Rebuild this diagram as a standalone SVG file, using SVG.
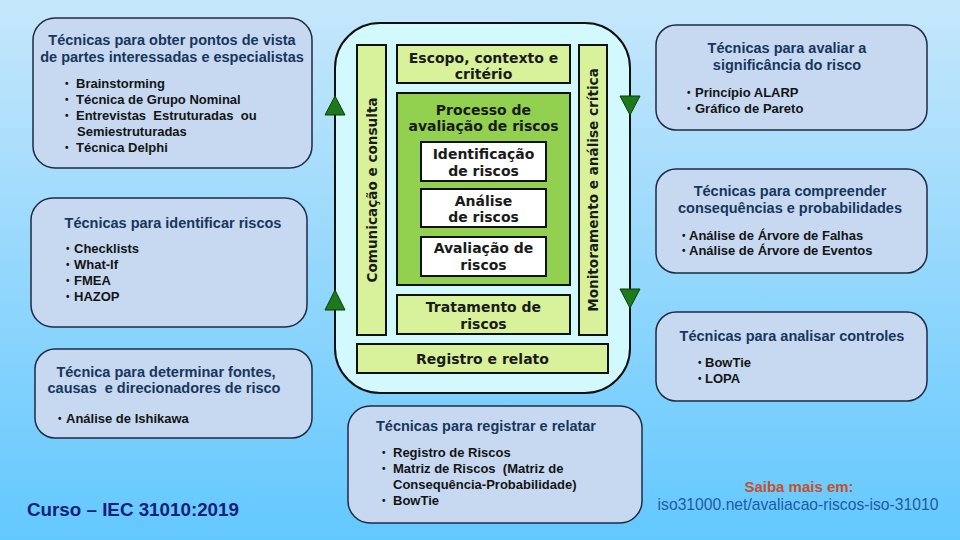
<svg xmlns="http://www.w3.org/2000/svg" width="960" height="540" viewBox="0 0 960 540">
<defs>
<linearGradient id="bg" x1="0" y1="0" x2="0" y2="1">
<stop offset="0" stop-color="#c6e7fb"/>
<stop offset="1" stop-color="#63c8fe"/>
</linearGradient>
<style>
.tbox{fill:#c6d9f1;stroke:#1f2a44;stroke-width:1.5}
.ttl{font-family:"Liberation Sans",Arial,sans-serif;font-weight:bold;font-size:14.5px;fill:#17365d;text-anchor:middle}
.itm{font-family:"Liberation Sans",Arial,sans-serif;font-weight:bold;font-size:13px;fill:#141414}
.bul{font-family:"Liberation Sans",Arial,sans-serif;font-weight:bold;font-size:10px;fill:#141414}
.lg{fill:#d8f29c;stroke:#111;stroke-width:2}
.dg{fill:#92d050;stroke:#111;stroke-width:2}
.wb{fill:#ffffff;stroke:#111;stroke-width:2}
.ct{font-family:"DejaVu Sans",Verdana,sans-serif;font-weight:bold;font-size:14px;fill:#1a1a1a;text-anchor:middle}
.vt{font-family:"DejaVu Sans",Verdana,sans-serif;font-weight:bold;font-size:13.6px;fill:#1a1a1a;text-anchor:middle}
.tri{fill:#1c7a1c;stroke:#0b3d0b;stroke-width:1}
</style>
</defs>
<rect x="0" y="0" width="960" height="540" fill="url(#bg)"/>

<g id="cycle">
<rect x="335" y="23" width="295" height="370" rx="45" ry="45" fill="#d2f9fd" stroke="#111" stroke-width="2"/>
</g>

<g id="comunicacao">
<rect class="lg" x="357" y="45" width="29" height="290"/>
<text class="vt" transform="translate(376.5,190) rotate(-90)">Comunicação e consulta</text>
</g>

<g id="monitoramento">
<rect class="lg" x="579" y="45" width="28" height="290"/>
<text class="vt" transform="translate(598,190) rotate(-90)">Monitoramento e análise crítica</text>
</g>

<g id="escopo">
<rect class="lg" x="397" y="45" width="173" height="38"/>
<text class="ct" x="483.5" y="63">Escopo, contexto e</text>
<text class="ct" x="483.5" y="79">critério</text>
</g>

<g id="processo">
<rect class="dg" x="397" y="93" width="173" height="192"/>
<text class="ct" x="483.5" y="115">Processo de</text>
<text class="ct" x="483.5" y="131">avaliação de riscos</text>
</g>

<g id="identificacao">
<rect class="wb" x="421" y="142" width="125" height="39"/>
<text class="ct" x="483.5" y="159">Identificação</text>
<text class="ct" x="483.5" y="176">de riscos</text>
</g>

<g id="analise">
<rect class="wb" x="421" y="189" width="125" height="38"/>
<text class="ct" x="483.5" y="206">Análise</text>
<text class="ct" x="483.5" y="222">de riscos</text>
</g>

<g id="avaliacao">
<rect class="wb" x="421" y="237" width="125" height="39"/>
<text class="ct" x="483.5" y="253">Avaliação de</text>
<text class="ct" x="483.5" y="270">riscos</text>
</g>

<g id="tratamento">
<rect class="lg" x="397" y="295" width="173" height="39"/>
<text class="ct" x="483.5" y="312">Tratamento de</text>
<text class="ct" x="483.5" y="329">riscos</text>
</g>

<g id="registro">
<rect class="lg" x="357" y="344" width="251" height="29"/>
<text class="ct" x="482.5" y="364">Registro e relato</text>
</g>

<g id="connectors">
<polygon class="tri" points="335,96 325,115 345,115"/>
<polygon class="tri" points="335,290 325,310 345,310"/>
<polygon class="tri" points="620,96 640,96 630,115"/>
<polygon class="tri" points="620,289 640,289 630,308"/>
</g>

<g id="box-pontos-de-vista">
<rect class="tbox" x="33" y="18" width="279" height="150" rx="22" ry="22"/>
<text class="ttl" x="172" y="45">Técnicas para obter pontos de vista</text>
<text class="ttl" x="172" y="62">de partes interessadas e especialistas</text>
<text class="bul" x="65" y="87">•</text><text class="itm" x="76" y="88">Brainstorming</text>
<text class="bul" x="65" y="103">•</text><text class="itm" x="76" y="104">Técnica de Grupo  Nominal</text>
<text class="bul" x="65" y="119">•</text><text class="itm" x="76" y="120" xml:space="preserve">Entrevistas  Estruturadas  ou</text>
<text class="itm" x="77" y="136">Semiestruturadas</text>
<text class="bul" x="65" y="151">•</text><text class="itm" x="76" y="152">Técnica Delphi</text>
</g>

<g id="box-identificar">
<rect class="tbox" x="31" y="198" width="276" height="129" rx="22" ry="22"/>
<text class="ttl" x="173" y="228">Técnicas para identificar riscos</text>
<text class="bul" x="66" y="252">•</text><text class="itm" x="74" y="253">Checklists</text>
<text class="bul" x="66" y="268">•</text><text class="itm" x="74" y="269">What-If</text>
<text class="bul" x="66" y="284">•</text><text class="itm" x="74" y="285">FMEA</text>
<text class="bul" x="66" y="300">•</text><text class="itm" x="74" y="301">HAZOP</text>
</g>

<g id="box-fontes">
<rect class="tbox" x="35" y="349" width="277" height="89" rx="20" ry="20"/>
<text class="ttl" x="166" y="377">Técnica para determinar fontes,</text>
<text class="ttl" x="164" y="393" xml:space="preserve">causas  e direcionadores de risco</text>
<text class="bul" x="58" y="422">•</text><text class="itm" x="66" y="423">Análise de Ishikawa</text>
</g>

<g id="box-significancia">
<rect class="tbox" x="656" y="25" width="271" height="105" rx="20" ry="20"/>
<text class="ttl" x="787" y="53">Técnicas para avaliar a</text>
<text class="ttl" x="787" y="70">significância do risco</text>
<text class="bul" x="687" y="96">•</text><text class="itm" x="695" y="97">Princípio ALARP</text>
<text class="bul" x="687" y="112">•</text><text class="itm" x="695" y="113">Gráfico de Pareto</text>
</g>

<g id="box-consequencias">
<rect class="tbox" x="656" y="169" width="271" height="104" rx="20" ry="20"/>
<text class="ttl" x="790" y="196">Técnicas para compreender</text>
<text class="ttl" x="790" y="213">consequências e probabilidades</text>
<text class="bul" x="682" y="239">•</text><text class="itm" x="689" y="240">Análise de Árvore de Falhas</text>
<text class="bul" x="682" y="254">•</text><text class="itm" x="689" y="255">Análise de Árvore de Eventos</text>
</g>

<g id="box-controles">
<rect class="tbox" x="656" y="312" width="271" height="89" rx="20" ry="20"/>
<text class="ttl" x="792" y="341">Técnicas para analisar controles</text>
<text class="bul" x="698" y="366">•</text><text class="itm" x="705" y="367">BowTie</text>
<text class="bul" x="698" y="382">•</text><text class="itm" x="705" y="383">LOPA</text>
</g>

<g id="box-registrar">
<rect class="tbox" x="348" y="406" width="294" height="117" rx="22" ry="22"/>
<text class="ttl" x="486" y="431">Técnicas para registrar e relatar</text>
<text class="bul" x="382" y="456">•</text><text class="itm" x="393" y="457">Registro de Riscos</text>
<text class="bul" x="382" y="472">•</text><text class="itm" x="393" y="473" xml:space="preserve">Matriz de Riscos  (Matriz de</text>
<text class="itm" x="393" y="489">Consequência-Probabilidade)</text>
<text class="bul" x="382" y="504">•</text><text class="itm" x="393" y="505">BowTie</text>
</g>

<g id="saiba-mais">
<text x="799" y="492" font-family="'Liberation Sans',Arial,sans-serif" font-weight="bold" font-size="15px" fill="#c4522d" text-anchor="middle">Saiba mais em:</text>
<text x="798" y="510" font-family="'Liberation Sans',Arial,sans-serif" font-size="15.7px" fill="#1f5aa6" text-anchor="middle">iso31000.net/avaliacao-riscos-iso-31010</text>
</g>

<g id="curso">
<text x="27" y="516" font-family="'Liberation Sans',Arial,sans-serif" font-weight="bold" font-size="18.8px" fill="#15207a">Curso – IEC 31010:2019</text>
</g>
</svg>
